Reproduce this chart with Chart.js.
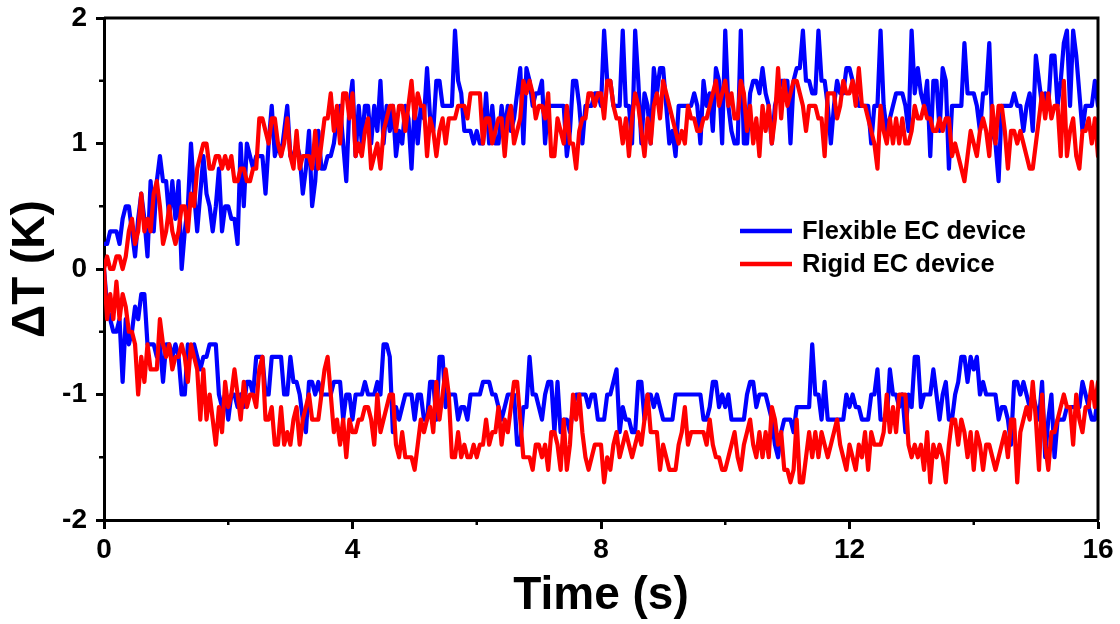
<!DOCTYPE html>
<html><head><meta charset="utf-8">
<script src="https://cdn.jsdelivr.net/npm/chart.js@4.4.1/dist/chart.umd.min.js"></script>
<style>html,body{margin:0;padding:0;background:#fff;}canvas{display:block;}</style>
</head><body>
<canvas id="c" width="1120" height="624"></canvas>
<script>
// sampling interval of the record (s)
const DT = 0.05;
const seriesNames = ['Flexible EC device', 'Rigid EC device'];
const xTicks = [0, 4, 8, 12, 16];
const yTicks = [-2, -1, 0, 1, 2];
const xMinor = [2, 6, 10, 14];
const yMinor = [-1.5, -0.5, 0.5, 1.5];

// Flexible EC device, heating branch (K)
const flexHeat = [
0.2,0.2,0.3,0.3,0.3,0.2,0.4,0.5,0.5,0.3,0.1,0.4,0.6,0.4,0.1,0.7,0.3,0.7,0.9,0.7,0.7,0.4,0.7,0.4,0.7,0.0,0.3,0.5,1.0,0.6,0.3,0.6,0.9,0.6,0.5,0.3,0.5,0.8,0.3,0.5,
0.5,0.4,0.4,0.2,1.0,0.5,1.0,0.9,0.8,0.9,0.9,0.9,0.6,1.0,1.3,0.9,1.0,0.9,1.1,1.3,0.9,0.9,1.0,0.9,0.6,0.8,1.1,0.5,0.7,1.1,0.8,0.8,0.9,0.9,1.0,1.2,1.3,1.0,0.7,1.3,
1.5,0.9,1.3,1.0,1.3,1.3,1.0,1.3,1.1,1.5,1.0,1.3,1.1,1.3,0.9,1.1,1.0,1.3,1.2,0.8,1.3,1.0,1.3,1.2,1.6,1.2,1.1,1.5,1.5,1.3,1.3,1.3,1.3,1.9,1.5,1.4,1.1,1.1,1.1,1.0,
1.1,1.0,1.0,1.4,1.0,1.3,1.0,1.0,1.3,1.1,1.3,1.1,1.2,1.4,1.6,1.0,1.6,1.5,1.3,1.4,1.4,1.5,1.0,1.3,1.3,1.3,1.3,1.3,1.3,0.9,1.1,1.5,1.5,1.3,1.0,1.3,1.3,1.3,1.4,1.4,
1.3,1.9,1.5,1.5,1.3,1.3,1.3,1.9,1.3,1.3,1.0,1.9,1.5,1.0,1.4,1.3,1.0,1.6,1.4,1.6,1.6,1.3,1.0,1.1,0.9,1.3,1.3,1.3,1.3,1.3,1.4,1.3,1.0,1.5,1.3,1.4,1.1,1.6,1.5,1.0,
1.9,1.3,1.1,1.0,1.0,1.9,1.0,1.0,1.4,1.5,1.5,1.4,1.6,1.4,1.3,1.0,1.3,1.4,1.5,1.5,1.5,1.0,1.5,1.6,1.6,1.9,1.5,1.5,1.4,1.4,1.9,1.5,1.5,1.3,1.0,1.3,1.5,1.4,1.4,1.6,
1.6,1.5,1.4,1.3,1.3,1.3,1.3,1.0,1.3,1.3,1.9,1.3,1.1,1.2,1.3,1.4,1.4,1.4,1.3,1.1,1.9,1.4,1.6,1.4,1.3,1.5,0.9,1.5,1.5,1.1,1.6,1.5,0.8,1.3,1.3,1.3,1.3,1.8,1.4,1.4,
1.4,1.3,1.1,1.4,1.4,1.8,1.1,1.0,0.7,1.3,1.3,1.3,1.3,1.4,1.3,1.3,1.1,1.3,1.4,1.1,1.7,1.5,1.3,1.4,1.3,1.7,1.7,1.3,1.5,1.8,1.9,1.3,1.9,1.7,1.4,1.1,1.3,1.3,1.3,1.5,
1.3];

// Rigid EC device, heating branch (K)
const rigidHeat = [
0.0,0.1,0.0,0.0,0.1,0.1,0.0,0.1,0.3,0.4,0.2,0.3,0.6,0.3,0.4,0.3,0.6,0.7,0.5,0.2,0.3,0.5,0.3,0.2,0.3,0.5,0.5,0.3,0.6,0.5,0.8,0.9,1.0,1.0,0.8,0.8,0.9,0.9,0.8,0.9,
0.8,0.9,0.7,0.7,0.8,0.8,0.7,0.7,0.8,0.8,1.2,1.2,1.1,1.0,1.2,1.2,1.0,0.9,1.0,1.2,0.9,0.8,1.1,0.8,0.9,0.9,0.9,0.8,1.1,0.8,1.0,1.2,1.2,1.4,1.1,1.3,1.0,1.4,1.4,1.2,
1.4,0.9,1.0,0.9,1.1,1.2,0.8,0.9,1.0,0.8,1.1,1.2,1.3,1.3,1.1,1.3,1.3,1.1,1.3,1.5,1.2,1.4,1.3,1.3,0.9,1.2,1.1,0.9,1.1,1.2,1.0,1.2,1.2,1.2,1.3,1.3,1.3,1.2,1.4,1.4,
1.4,1.4,1.0,1.2,1.2,1.0,1.1,1.2,1.2,0.9,1.2,1.3,1.0,1.1,1.2,1.5,1.4,1.5,1.4,1.2,1.3,1.3,1.2,1.4,0.9,0.9,1.2,1.1,1.0,1.3,1.0,1.0,0.8,1.1,1.2,1.2,1.4,1.4,1.3,1.4,
1.4,1.2,1.5,1.5,1.3,1.2,1.2,1.0,1.2,0.9,1.2,1.4,1.3,1.1,0.9,1.2,1.0,1.3,1.4,1.2,1.5,1.4,1.3,1.2,1.1,1.0,1.1,1.0,1.3,1.2,1.2,1.1,1.1,1.2,1.2,1.3,1.4,1.5,1.3,1.4,
1.5,1.3,1.4,1.2,1.2,1.5,1.4,1.1,1.3,1.0,1.2,0.9,1.3,1.1,1.3,1.0,1.2,1.6,1.2,1.5,1.3,1.4,1.5,1.5,1.4,1.3,1.1,1.3,1.3,1.3,1.2,1.2,0.9,1.4,1.4,1.4,1.2,1.3,1.5,1.4,
1.4,1.5,1.3,1.6,1.3,1.3,1.2,1.1,1.0,0.8,1.3,1.1,1.0,1.2,1.0,1.2,1.0,1.2,1.0,1.0,1.1,1.3,1.2,1.2,1.3,1.2,1.2,1.1,1.1,1.2,1.1,1.2,1.2,0.9,1.0,0.9,0.8,0.7,0.9,1.1,
1.0,0.9,1.1,1.2,1.1,0.9,1.3,1.0,1.3,1.3,1.1,0.8,1.1,1.1,1.0,1.1,1.0,0.9,0.8,0.8,1.0,1.2,1.4,1.2,1.4,1.2,1.3,1.3,0.9,1.5,0.9,1.1,1.2,0.9,0.8,1.1,1.1,1.2,1.0,1.2,
0.9];

// Flexible EC device, cooling branch (K)
const flexCool = [
0.0,-0.3,-0.4,-0.5,-0.5,-0.4,-0.9,-0.4,-0.6,-0.5,-0.3,-0.4,-0.2,-0.2,-0.6,-0.6,-0.6,-0.7,-0.6,-0.9,-0.6,-0.6,-0.7,-0.6,-0.7,-1.0,-1.0,-0.6,-0.7,-0.6,-0.7,-0.8,-0.7,-0.7,-0.6,-0.6,-0.6,-1.0,-1.1,-1.0,
-1.2,-1.0,-1.0,-1.1,-1.0,-1.1,-0.9,-0.9,-1.0,-0.7,-0.7,-0.7,-1.0,-1.0,-0.7,-0.7,-0.7,-0.7,-1.0,-1.0,-0.7,-0.9,-0.9,-1.0,-1.2,-1.3,-0.9,-0.9,-1.0,-0.9,-1.0,-1.0,-1.0,-1.0,-0.9,-0.9,-0.9,-1.2,-1.0,-1.0,
-1.2,-1.0,-1.0,-1.0,-0.9,-1.0,-1.0,-1.0,-0.9,-1.0,-0.6,-0.6,-0.7,-1.3,-1.1,-1.2,-1.1,-1.0,-1.0,-1.0,-1.2,-1.0,-1.0,-1.2,-1.2,-0.9,-0.9,-1.2,-0.7,-0.7,-1.1,-1.0,-1.0,-1.0,-1.2,-1.1,-1.1,-1.2,-1.0,-1.0,
-1.0,-1.0,-0.9,-0.9,-0.9,-1.0,-1.0,-1.1,-1.2,-1.1,-1.0,-1.0,-1.0,-1.4,-1.4,-1.1,-1.1,-0.7,-1.0,-1.0,-1.1,-1.2,-1.0,-0.9,-0.9,-1.3,-0.9,-1.3,-1.2,-1.2,-1.3,-1.1,-1.0,-1.0,-1.0,-1.0,-1.1,-1.0,-1.0,-1.2,
-1.2,-1.2,-1.0,-1.0,-0.9,-0.8,-1.3,-1.1,-1.2,-1.2,-1.3,-1.3,-0.9,-0.9,-1.2,-1.0,-1.0,-1.1,-1.0,-1.1,-1.2,-1.2,-1.2,-1.2,-1.0,-1.0,-1.0,-1.0,-1.0,-1.0,-1.0,-1.0,-1.0,-1.2,-1.2,-1.1,-0.9,-0.9,-1.1,-1.0,
-1.1,-1.0,-1.2,-1.2,-1.2,-1.2,-1.2,-1.0,-0.9,-0.9,-1.1,-1.0,-1.0,-1.0,-1.1,-1.2,-1.4,-1.5,-1.3,-1.2,-1.2,-1.2,-1.3,-1.1,-1.1,-1.1,-1.1,-1.1,-0.6,-1.0,-1.0,-1.2,-0.9,-1.2,-1.2,-1.2,-1.2,-1.2,-1.2,-1.0,
-1.1,-1.0,-1.1,-1.1,-1.2,-1.2,-1.2,-1.0,-1.0,-0.8,-1.2,-1.2,-1.2,-0.8,-1.0,-1.0,-1.1,-1.0,-1.3,-1.0,-1.1,-0.7,-0.7,-1.1,-1.0,-1.0,-1.0,-0.8,-1.0,-1.2,-1.0,-0.9,-1.2,-1.2,-1.0,-0.9,-0.7,-0.7,-0.9,-0.7,
-0.8,-0.7,-1.0,-0.9,-1.0,-1.0,-1.0,-1.0,-1.2,-1.1,-1.1,-1.2,-1.4,-0.9,-0.9,-1.0,-0.9,-1.0,-1.1,-1.0,-1.1,-1.2,-0.9,-1.5,-1.2,-1.0,-1.5,-1.2,-1.2,-1.2,-1.1,-1.1,-1.1,-1.1,-1.1,-0.9,-1.0,-1.1,-1.2,-1.2,
-1.0];

// Rigid EC device, cooling branch (K)
const rigidCool = [
0.0,-0.4,-0.2,-0.4,-0.1,-0.4,-0.2,-0.3,-0.5,-0.5,-0.6,-1.0,-0.7,-0.9,-0.6,-0.8,-0.8,-0.8,-0.4,-0.6,-0.7,-0.6,-0.8,-0.7,-0.7,-0.6,-0.7,-0.9,-0.6,-0.7,-0.8,-1.2,-0.8,-1.2,-1.0,-1.2,-1.4,-1.1,-1.3,-0.9,
-1.1,-1.0,-0.8,-1.0,-1.2,-0.9,-1.1,-1.0,-1.0,-1.1,-0.8,-0.7,-1.2,-1.2,-1.1,-1.4,-1.4,-1.1,-1.4,-1.3,-1.4,-1.2,-1.1,-1.4,-1.2,-1.1,-1.0,-1.2,-1.2,-1.2,-1.0,-0.8,-0.7,-1.0,-1.3,-1.2,-1.4,-1.2,-1.5,-1.2,
-1.3,-1.3,-1.2,-1.2,-1.1,-1.1,-1.2,-1.4,-1.0,-1.3,-1.2,-1.1,-1.0,-1.0,-1.4,-1.5,-1.3,-1.5,-1.5,-1.5,-1.6,-1.4,-1.2,-1.3,-1.2,-1.1,-1.3,-0.9,-1.2,-1.0,-0.8,-1.0,-1.5,-1.5,-1.3,-1.5,-1.4,-1.5,-1.5,-1.4,
-1.5,-1.4,-1.4,-1.2,-1.4,-1.3,-1.3,-1.1,-1.4,-1.2,-1.3,-1.1,-0.9,-0.9,-1.2,-1.5,-1.5,-1.5,-1.6,-1.4,-1.4,-1.5,-1.4,-1.6,-1.3,-1.3,-1.4,-1.6,-1.2,-1.6,-1.4,-1.0,-1.2,-1.0,-1.3,-1.5,-1.6,-1.5,-1.4,-1.4,
-1.4,-1.7,-1.5,-1.6,-1.4,-1.3,-1.5,-1.4,-1.3,-1.4,-1.5,-1.4,-1.3,-1.4,-1.2,-1.0,-1.3,-1.3,-1.3,-1.6,-1.4,-1.5,-1.6,-1.6,-1.6,-1.4,-1.3,-1.1,-1.4,-1.3,-1.3,-1.3,-1.3,-1.3,-1.4,-1.2,-1.4,-1.5,-1.5,-1.6,
-1.6,-1.5,-1.4,-1.3,-1.5,-1.6,-1.4,-1.3,-1.2,-1.4,-1.5,-1.3,-1.5,-1.3,-1.5,-1.1,-1.2,-1.4,-1.3,-1.6,-1.6,-1.7,-1.6,-1.2,-1.7,-1.7,-1.5,-1.3,-1.5,-1.3,-1.5,-1.3,-1.4,-1.5,-1.4,-1.3,-1.2,-1.4,-1.5,-1.6,
-1.4,-1.5,-1.6,-1.4,-1.5,-1.3,-1.6,-1.3,-1.4,-1.4,-1.4,-1.3,-1.0,-1.3,-1.1,-1.3,-1.0,-1.0,-1.0,-1.4,-1.5,-1.4,-1.5,-1.4,-1.6,-1.3,-1.7,-1.4,-1.5,-1.4,-1.5,-1.7,-1.4,-1.2,-1.2,-1.4,-1.2,-1.3,-1.5,-1.3,
-1.6,-1.3,-1.4,-1.6,-1.4,-1.4,-1.5,-1.6,-1.5,-1.4,-1.3,-1.5,-1.2,-1.2,-1.7,-1.3,-1.2,-1.1,-1.2,-0.9,-1.2,-1.6,-1.0,-1.4,-1.6,-1.3,-1.3,-1.2,-1.1,-1.0,-1.1,-1.1,-1.4,-1.0,-1.2,-1.3,-1.1,-1.1,-0.9,-1.1,
-0.9];

const BLUE = '#0000ff', RED = '#ff0000';
const FONT = '"Liberation Sans", Arial, sans-serif';
const toPoints = arr => arr.map((v, i) => ({x: Math.round(i * DT * 100) / 100, y: v}));

function line(data, color, label) {
  return {label, data: toPoints(data), borderColor: color, backgroundColor: color,
    borderWidth: 4.2, pointRadius: 0, tension: 0, fill: false,
    borderJoinStyle: 'round', borderCapStyle: 'round'};
}

const framePlugin = {
  id: 'frame',
  afterDraw(chart) {
    const {ctx, chartArea: a, scales: {x, y}} = chart;
    ctx.save();
    ctx.strokeStyle = '#000';
    ctx.lineWidth = 3;
    ctx.beginPath();
    ctx.moveTo(a.left, a.top);
    ctx.lineTo(a.right, a.top);
    ctx.lineTo(a.right, a.bottom);
    ctx.stroke();
    ctx.lineWidth = 2.5;
    ctx.beginPath();
    xMinor.forEach(v => { const p = x.getPixelForValue(v); ctx.moveTo(p, a.bottom); ctx.lineTo(p, a.bottom + 5); });
    yMinor.forEach(v => { const p = y.getPixelForValue(v); ctx.moveTo(a.left, p); ctx.lineTo(a.left - 5, p); });
    ctx.stroke();
    // legend (two entries, one per device)
    const colors = [BLUE, RED];
    const lx = a.left + 636, ly = a.top + 213, gap = 33;
    ctx.font = 'bold 25.5px ' + FONT;
    ctx.textBaseline = 'middle';
    ctx.textAlign = 'left';
    seriesNames.forEach((n, i) => {
      const yy = ly + i * gap;
      ctx.strokeStyle = colors[i];
      ctx.lineWidth = 4.5;
      ctx.beginPath(); ctx.moveTo(lx, yy); ctx.lineTo(lx + 52, yy); ctx.stroke();
      ctx.fillStyle = '#000';
      ctx.fillText(n, lx + 62, yy + 1);
    });
    ctx.restore();
  }
};

new Chart(document.getElementById('c'), {
  type: 'line',
  data: {datasets: [
    line(rigidHeat, RED, seriesNames[1]),
    line(rigidCool, RED, seriesNames[1]),
    line(flexHeat, BLUE, seriesNames[0]),
    line(flexCool, BLUE, seriesNames[0])
  ]},
  options: {
    responsive: false, animation: false, devicePixelRatio: 1,
    layout: {padding: {left: 0, right: 22, top: 18, bottom: 0}},
    plugins: {legend: {display: false}, tooltip: {enabled: false}},
    scales: {
      x: {
        type: 'linear', min: 0, max: 16,
        afterBuildTicks: s => { s.ticks = xTicks.map(v => ({value: v})); },
        afterFit: s => { s.height = 104; s.paddingLeft = 0; s.paddingRight = 0; },
        ticks: {color: '#000', font: {family: FONT, size: 28, weight: 'bold'}, padding: 4, maxRotation: 0},
        grid: {drawOnChartArea: false, drawTicks: true, tickLength: 9, tickWidth: 3, tickColor: '#000'},
        border: {display: true, color: '#000', width: 3},
        title: {display: true, text: 'Time (s)', color: '#000', font: {family: FONT, size: 46, weight: 'bold'}, padding: {top: 0, bottom: 0}}
      },
      y: {
        min: -2, max: 2,
        afterBuildTicks: s => { s.ticks = yTicks.map(v => ({value: v})); },
        afterFit: s => { s.width = 104; s.paddingTop = 0; s.paddingBottom = 0; },
        ticks: {color: '#000', font: {family: FONT, size: 28, weight: 'bold'}, padding: 9},
        grid: {drawOnChartArea: false, drawTicks: true, tickLength: 8, tickWidth: 3, tickColor: '#000'},
        border: {display: true, color: '#000', width: 3},
        title: {display: true, text: 'ΔT (K)', color: '#000', font: {family: FONT, size: 46, weight: 'bold'}, padding: {top: 4, bottom: 0}}
      }
    }
  },
  plugins: [framePlugin]
});
</script>
</body></html>
